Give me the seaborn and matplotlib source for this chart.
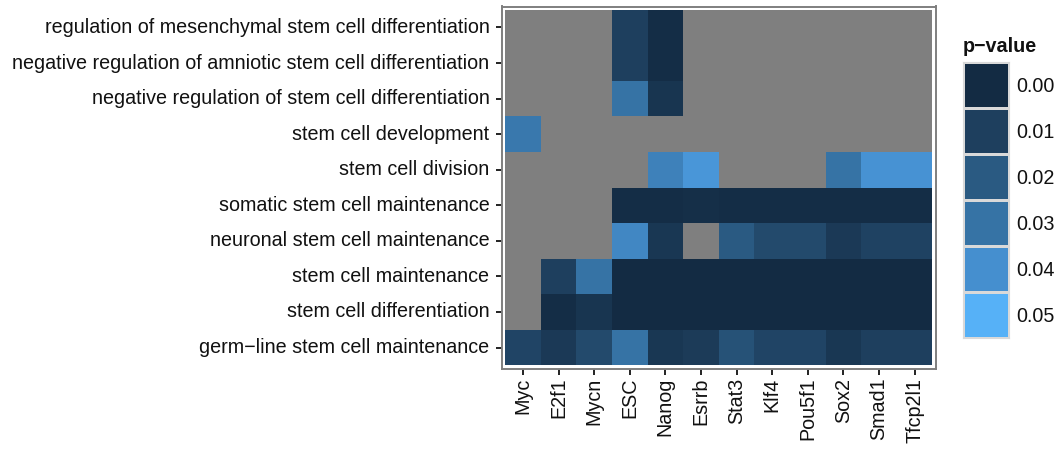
import numpy as np
import pandas as pd
import matplotlib
matplotlib.use("Agg")
import matplotlib.pyplot as plt
from matplotlib.colors import LinearSegmentedColormap, ListedColormap
import seaborn as sns

sns.set_theme(style="white")
plt.rcParams['font.family'] = ['Liberation Sans', 'DejaVu Sans']

genes = ["Myc", "E2f1", "Mycn", "ESC", "Nanog", "Esrrb", "Stat3", "Klf4",
         "Pou5f1", "Sox2", "Smad1", "Tfcp2l1"]
terms = [
    "regulation of mesenchymal stem cell differentiation",
    "negative regulation of amniotic stem cell differentiation",
    "negative regulation of stem cell differentiation",
    "stem cell development",
    "stem cell division",
    "somatic stem cell maintenance",
    "neuronal stem cell maintenance",
    "stem cell maintenance",
    "stem cell differentiation",
    "germ\u2212line stem cell maintenance",
]
nan = np.nan
# p-values, one list per term (columns follow `genes`)
p_reg_mesenchymal = [nan, nan, nan, 0.010, 0.001, nan, nan, nan, nan, nan, nan, nan]
p_neg_amniotic    = [nan, nan, nan, 0.010, 0.001, nan, nan, nan, nan, nan, nan, nan]
p_neg_reg_diff    = [nan, nan, nan, 0.030, 0.005, nan, nan, nan, nan, nan, nan, nan]
p_development     = [0.032, nan, nan, nan, nan, nan, nan, nan, nan, nan, nan, nan]
p_division        = [nan, nan, nan, nan, 0.035, 0.042, nan, nan, nan, 0.030, 0.041, 0.041]
p_somatic_maint   = [nan, nan, nan, 0.001, 0.001, 0.002, 0.001, 0.001, 0.001, 0.001, 0.001, 0.001]
p_neuronal_maint  = [nan, nan, nan, 0.037, 0.006, nan, 0.020, 0.014, 0.014, 0.007, 0.011, 0.011]
p_maintenance     = [nan, 0.010, 0.030, 0.000, 0.000, 0.000, 0.000, 0.000, 0.000, 0.000, 0.000, 0.000]
p_differentiation = [nan, 0.001, 0.005, 0.000, 0.000, 0.000, 0.000, 0.000, 0.000, 0.000, 0.000, 0.000]
p_germline_maint  = [0.012, 0.007, 0.014, 0.030, 0.006, 0.008, 0.017, 0.012, 0.012, 0.006, 0.010, 0.010]

legend_breaks = [0.00, 0.01, 0.02, 0.03, 0.04, 0.05]

df = pd.DataFrame([p_reg_mesenchymal, p_neg_amniotic, p_neg_reg_diff, p_development,
                   p_division, p_somatic_maint, p_neuronal_maint, p_maintenance,
                   p_differentiation, p_germline_maint], index=terms, columns=genes)

cmap = LinearSegmentedColormap.from_list(
    "pv", ["#132B43", "#1E3F5E", "#2A5A82", "#3673A5", "#458FCF", "#56B1F7"])
vmin, vmax = 0.0, 0.05

FS = 14.2
TXT = "#111111"
W, H = 1060, 450
fig = plt.figure(figsize=(W / 100, H / 100), dpi=100)
ax = fig.add_axes([502 / W, 1 - 368.5 / H, 433.5 / W, 362 / H])

na = df.isna()
sns.heatmap(na.astype(float), mask=~na, cmap=ListedColormap(["#7F7F7F"]),
            cbar=False, ax=ax)
sns.heatmap(df, cmap=cmap, vmin=vmin, vmax=vmax, cbar=False, ax=ax)
ax.set_facecolor("white")
ax.set_xlim(-0.09, len(genes) + 0.09)
ax.set_ylim(len(terms) + 0.09, -0.09)
ax.set_xlabel("")
ax.set_ylabel("")
ax.set_xticks(np.arange(len(genes)) + 0.5)
ax.set_xticklabels(genes, rotation=90, fontsize=FS, color=TXT)
ax.set_yticks(np.arange(len(terms)) + 0.5)
ax.set_yticklabels(terms, rotation=0, fontsize=FS, color=TXT)
ax.tick_params(axis="both", length=4.5, width=1.4, color="#222222",
               left=True, bottom=True)
ax.tick_params(axis="y", pad=4.5)
ax.tick_params(axis="x", pad=2.0)
for s in ax.spines.values():
    s.set_visible(True)
    s.set_color("#7F7F7F")
    s.set_linewidth(1.4)

# legend
lax = fig.add_axes([963 / W, 1 - 338 / H, 46 / W, 276 / H])
leg = pd.DataFrame({"p": legend_breaks}, index=[f"{b:.2f}" for b in legend_breaks])
sns.heatmap(leg, cmap=cmap, vmin=vmin, vmax=vmax, cbar=False, ax=lax,
            linewidths=0.8, linecolor="#D9D9D9")
lax.yaxis.tick_right()
lax.set_yticklabels(leg.index, rotation=0, fontsize=FS, color=TXT)
lax.set_xticks([])
lax.set_ylabel("")
lax.tick_params(axis="y", length=0, pad=5)
for s in lax.spines.values():
    s.set_visible(True)
    s.set_color("#D9D9D9")
    s.set_linewidth(0.8)
lax.set_title("p\u2212value", loc="left", fontsize=FS, fontweight="bold",
              color=TXT, pad=7)

fig.savefig("out.png", dpi=100)
